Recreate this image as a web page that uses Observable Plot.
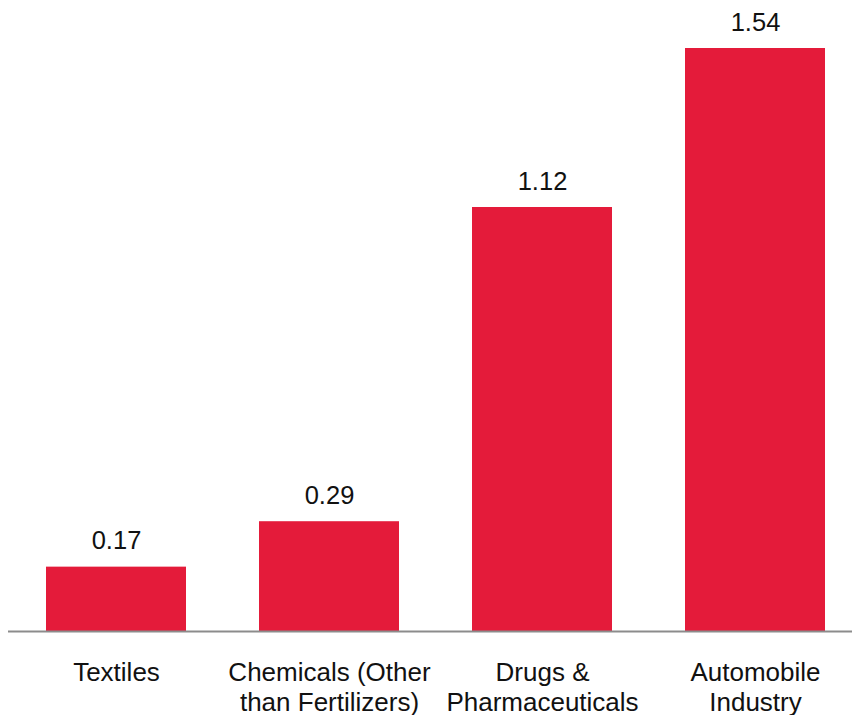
<!DOCTYPE html>
<html>
<head>
<meta charset="utf-8">
<script src="https://cdn.jsdelivr.net/npm/d3@7"></script>
<script src="https://cdn.jsdelivr.net/npm/@observablehq/plot@0.6"></script>
<style>
  html, body { margin: 0; padding: 0; background: #fff; }
  #chart svg { display: block; }
</style>
</head>
<body>
<div id="chart"></div>
<script>
const categories = ["Textiles", "Chemicals (Other than Fertilizers)", "Drugs & Pharmaceuticals", "Automobile Industry"];
const tickLabels = ["Textiles", "Chemicals (Other\nthan Fertilizers)", "Drugs &\nPharmaceuticals", "Automobile\nIndustry"];
const values = [0.17, 0.29, 1.12, 1.54];

const data = categories.map((c, i) => ({category: c, value: values[i]}));
const labelOf = new Map(categories.map((c, i) => [c, tickLabels[i]]));

const chart = Plot.plot({
  width: 852,
  height: 715,
  marginTop: 48,
  marginBottom: 84,
  marginLeft: 8,
  marginRight: 0,
  style: {fontFamily: "'Liberation Sans', Arial, sans-serif", background: "#fff"},
  x: {domain: categories, paddingInner: 0.344, paddingOuter: 0, insetLeft: 37, insetRight: 27, label: null},
  y: {domain: [0, 1.54], axis: null},
  marks: [
    Plot.barY(data, {x: "category", y: "value", fill: "#E41B3A"}),
    Plot.ruleY([0], {stroke: "#8c8c8c", strokeWidth: 2}),
    Plot.text(data, {x: "category", y: "value", text: d => d.value.toFixed(2), dy: -18, lineAnchor: "bottom", fontSize: 25.5, fill: "#111"}),
    Plot.axisX({tickSize: 0, tickPadding: 28, fontSize: 26, lineHeight: 1.15, fill: "#111", tickFormat: d => labelOf.get(d), label: null})
  ]
});
document.getElementById("chart").appendChild(chart);
</script>
</body>
</html>
